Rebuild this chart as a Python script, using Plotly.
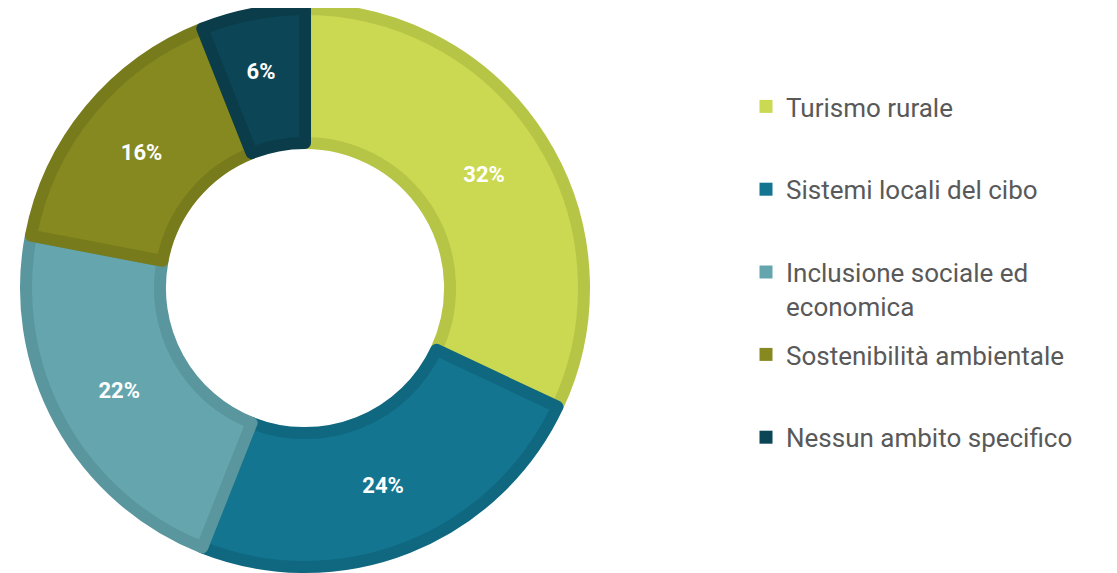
import plotly.graph_objects as go

# Data
labels = ["Turismo rurale", "Sistemi locali del cibo", "Inclusione sociale ed<br>economica",
          "Sostenibilità ambientale", "Nessun ambito specifico"]
shares = [32, 24, 22, 16, 6]

# Fill colors and darker border colors of each slice
FILL_COLORS = ["#cbd952", "#137590", "#65a6ae", "#86891f", "#0c4656"]
BORDER_COLORS = ["#b7c547", "#0f6880", "#5a969d", "#787b1b", "#0a3c4a"]

W, H = 1117, 573


def main():
    fig = go.Figure()

    # the thin last slice pushes its label outward; a blank line above pulls it back to mid-ring
    templates = ["%{value}%"] * (len(shares) - 1) + [" <br>%{value}%"]

    fig.add_trace(
        go.Pie(
            labels=labels,
            values=shares,
            sort=False,
            direction="clockwise",
            rotation=0,
            hole=0.52,
            domain=dict(x=[18 / W, 576 / W], y=[14 / H, 572 / H]),
            marker=dict(colors=FILL_COLORS, line=dict(color=BORDER_COLORS, width=12)),
            texttemplate=templates,
            textposition="inside",
            insidetextorientation="horizontal",
            textfont=dict(family="Roboto", size=22, color="white", weight="bold"),
            showlegend=False,
            hoverinfo="label+percent",
        )
    )

    # legend entries: first three in legend, last two in legend2 (keeps even spacing)
    for i, (lab, col) in enumerate(zip(labels, FILL_COLORS)):
        fig.add_trace(
            go.Scatter(
                x=[None], y=[None],
                mode="markers",
                marker=dict(symbol="square", size=13, color=col),
                name=lab,
                legendgroup=f"g{i}",
                legend="legend" if i < 3 else "legend2",
                showlegend=True,
                hoverinfo="skip",
            )
        )

    legend_style = dict(
        font=dict(family="Roboto", size=26, color="#595959"),
        bgcolor="rgba(0,0,0,0)",
        xanchor="left",
        yanchor="top",
        x=738 / W,
        tracegroupgap=46,
        valign="top",
        itemclick=False,
    )

    fig.update_layout(
        width=W,
        height=H,
        margin=dict(l=0, r=0, t=0, b=0),
        paper_bgcolor="white",
        plot_bgcolor="white",
        xaxis=dict(visible=False),
        yaxis=dict(visible=False),
        legend=dict(y=1 - 75 / H, **legend_style),
        legend2=dict(y=1 - 323 / H, **legend_style),
    )

    fig.write_html("out.html")


if __name__ == "__main__":
    main()
